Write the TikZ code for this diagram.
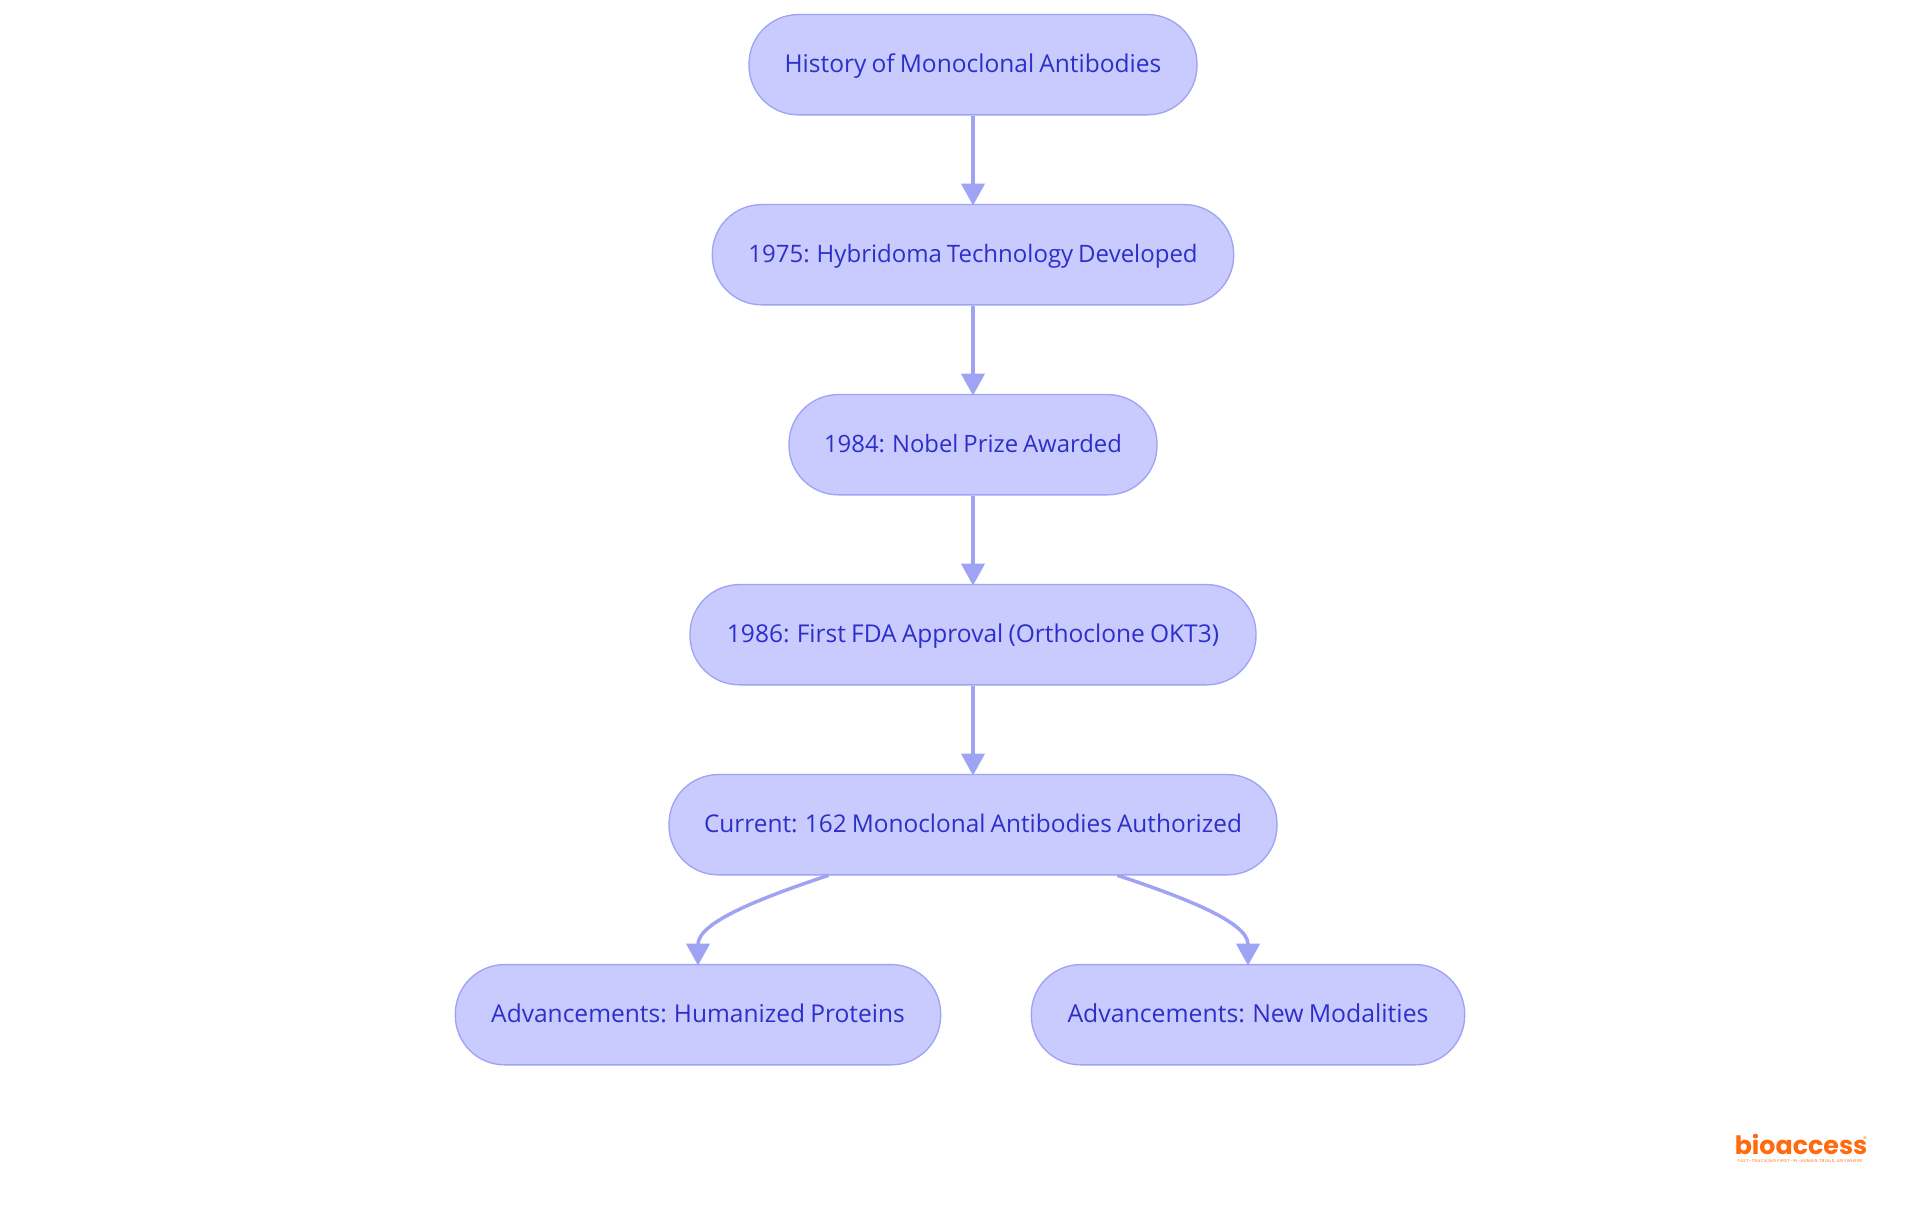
\documentclass[tikz,border=0pt]{standalone}
\usepackage{fontspec}
\setmainfont[WordSpace=0.8]{Open Sans}
\newfontfamily\logofont{Poppins}
\newfontfamily\tagfont[LetterSpace=12]{Poppins}
\usetikzlibrary{arrows.meta}
\definecolor{nodefill}{HTML}{C9CBFF}
\definecolor{nodeline}{HTML}{9FA3F3}
\definecolor{nodetext}{HTML}{2C30C8}
\definecolor{logoor}{HTML}{FF6A0D}
\tikzset{
  x=0.75pt,y=-0.75pt,
  flow/.style={draw=nodeline,line width=1pt,fill=nodefill,text=nodetext,rounded corners=37pt,minimum height=75.2pt,inner sep=0pt,text height=14pt,text depth=3pt,font=\fontsize{18.4}{20}\selectfont},
  link/.style={draw=nodeline,line width=2.6pt,shorten >=-1.2pt,-{Triangle[length=16.5pt,width=17.5pt,sep=0pt]}},
  logo/.style={inner sep=0pt,text=logoor}
}
\begin{document}
\begin{tikzpicture}
\useasboundingbox (0,0) rectangle (1920,1215);
\fill[white] (0,0) rectangle (1920,1215);
\node[flow,minimum width=336pt] (n1) at (973,64.7) {History of Monoclonal Antibodies};
\node[flow,minimum width=391pt,font=\fontsize{18}{20}\selectfont] (n2) at (973,254.7) {1975: Hybridoma Technology Developed};
\node[flow,minimum width=276pt,font=\fontsize{17.9}{20}\selectfont] (n3) at (973,444.7) {1984: Nobel Prize Awarded};
\node[flow,minimum width=424.5pt] (n4) at (973,634.7) {1986: First FDA Approval (Orthoclone OKT3)};
\node[flow,minimum width=456pt,font=\fontsize{18.3}{20}\selectfont] (n5) at (973,824.7) {Current: 162 Monoclonal Antibodies Authorized};
\node[flow,minimum width=364pt] (n6) at (698,1014.7) {Advancements: Humanized Proteins};
\node[flow,minimum width=325pt,font=\fontsize{18.6}{20}\selectfont] (n7) at (1248,1014.7) {Advancements: New Modalities};
\draw[link] (n1) -- (n2);
\draw[link] (n2) -- (n3);
\draw[link] (n3) -- (n4);
\draw[link] (n4) -- (n5);
\draw[link,shorten <=-0.5pt] ([xshift=-108.75pt]n5.south) .. controls +(-66,22) and (698,922) .. (n6.north);
\draw[link,shorten <=-0.5pt] ([xshift=108.75pt]n5.south) .. controls +(66,22) and (1248,922) .. (n7.north);
\node[logo,font=\logofont\bfseries\fontsize{19}{20}\selectfont,text height=14pt,text depth=0pt] (lg) at (1801,1145) {bioaccess};
\node[logo,font=\logofont\fontsize{5}{6}\selectfont] (lr) at (1865,1139) {®};
\node[logo,font=\tagfont\fontsize{3.1}{4}\selectfont] (lt) at (1800,1161.5) {FAST-TRACKING FIRST-IN-HUMAN TRIALS, ANYWHERE};
\end{tikzpicture}
\end{document}
